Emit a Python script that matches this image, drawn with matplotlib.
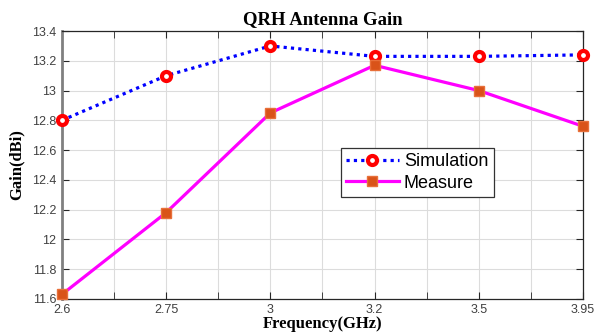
import matplotlib
matplotlib.use("Agg")
import matplotlib.pyplot as plt
import numpy as np

# Gain measurements for the QRH antenna
freq_labels = ["2.6", "2.75", "3", "3.2", "3.5", "3.95"]
gain_sim = [12.80, 13.10, 13.30, 13.23, 13.23, 13.24]
gain_meas = [11.63, 12.18, 12.85, 13.17, 13.00, 12.76]

y_ticks = [11.6, 11.8, 12.0, 12.2, 12.4, 12.6, 12.8, 13.0, 13.2, 13.4]
y_tick_labels = ["11.6", "11.8", "12", "12.2", "12.4", "12.6", "12.8", "13", "13.2", "13.4"]

SERIF = ["Liberation Serif", "DejaVu Serif"]
SANS = ["Liberation Sans", "DejaVu Sans"]

fig = plt.figure(figsize=(5.95, 3.34), dpi=100)
ax = fig.add_axes([0.104, 0.105, 0.876, 0.802])

x = np.arange(len(freq_labels))
ax.plot(x, gain_sim, linestyle=(0, (1, 1.3)), color="#0000ff", linewidth=2.3,
        marker="o", markersize=6.5, markerfacecolor="white",
        markeredgecolor="#ff0000", markeredgewidth=3, label="Simulation",
        clip_on=False, zorder=3)
ax.plot(x, gain_meas, linestyle="-", color="#ff00ff", linewidth=2.3,
        marker="s", markersize=6.5, markerfacecolor="#d95319",
        markeredgecolor="#e8703a", markeredgewidth=1, label="Measure",
        clip_on=False, zorder=3)

ax.set_xlim(0, len(freq_labels) - 1)
ax.set_ylim(11.6, 13.4)
ax.set_xticks(x)
ax.set_xticklabels(freq_labels)
ax.set_xticks(x[:-1] + 0.5, minor=True)
ax.set_yticks(y_ticks)
ax.set_yticklabels(y_tick_labels)

ax.grid(True, which="both", color="#dcdcdc", linewidth=0.8)
ax.set_axisbelow(True)
ax.tick_params(which="both", direction="in", length=5, top=True, right=True,
               color="#262626", labelsize=9, labelcolor="#404040", pad=4)
for lab in ax.get_xticklabels() + ax.get_yticklabels():
    lab.set_family(SANS)
for side in ["top", "right", "bottom"]:
    ax.spines[side].set_color("#262626")
    ax.spines[side].set_linewidth(0.9)
ax.spines["left"].set_color("#808080")
ax.spines["left"].set_linewidth(2)

ax.set_title("QRH Antenna Gain", family=SERIF, fontweight="bold", fontsize=13.5, pad=5)
ax.set_xlabel("Frequency(GHz)", family=SERIF, fontweight="bold", fontsize=12, labelpad=0)
ax.set_ylabel("Gain(dBi)", family=SERIF, fontweight="bold", fontsize=12, labelpad=5)

leg = ax.legend(loc="upper left", bbox_to_anchor=(0.535, 0.565), fancybox=False,
                framealpha=1, edgecolor="#333333", handlelength=2.9,
                borderpad=0.3, labelspacing=0.25, handletextpad=0.3,
                borderaxespad=0, prop={"family": SANS, "size": 13})
leg.get_frame().set_linewidth(0.9)

fig.savefig("out.png", dpi=100)
